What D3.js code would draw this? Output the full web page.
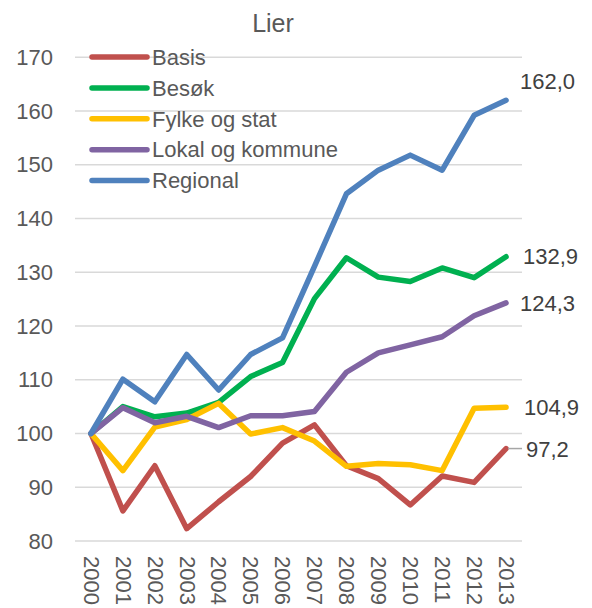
<!DOCTYPE html>
<head>
  <meta charset="utf-8">
  <script src="https://d3js.org/d3.v7.min.js"></script>
  <style>
    body { margin:0; background:#fff; }
    text { font-family: "Liberation Sans", Arial, sans-serif; }
  </style>
</head>
<body>
  <script>
    // data
    var years = ["2000","2001","2002","2003","2004","2005","2006","2007","2008","2009","2010","2011","2012","2013"];
    var seriesNames = ["Basis", "Besøk", "Fylke og stat", "Lokal og kommune", "Regional"];
    var basis    = [100, 85.6, 94.0, 82.3, 87.3, 92.0, 98.2, 101.6, 94.0, 91.6, 86.7, 92.1, 90.9, 97.2];
    var besok    = [100, 105.0, 103.1, 103.8, 105.8, 110.6, 113.2, 125.1, 132.7, 129.1, 128.3, 130.8, 129.0, 132.9];
    var fylke    = [100, 93.1, 101.2, 102.6, 105.6, 99.9, 101.1, 98.6, 93.9, 94.4, 94.2, 93.1, 104.7, 104.9];
    var lokal    = [100, 104.8, 102.0, 103.2, 101.1, 103.3, 103.3, 104.1, 111.4, 115.0, 116.5, 118.0, 121.9, 124.3];
    var regional = [100, 110.1, 105.9, 114.7, 108.1, 114.7, 117.8, 131.1, 144.6, 149.0, 151.8, 149.0, 159.2, 162.0];
    var yTicks = [80, 90, 100, 110, 120, 130, 140, 150, 160, 170];
    var endLabels = ["97,2", "132,9", "104,9", "124,3", "162,0"];
    var colors = ["#C0504D", "#00B050", "#FFC000", "#8064A2", "#4F81BD"];

    var width = 592, height = 608;
    var plot = {left: 75, right: 522, top: 57.3, bottom: 541};

    var svg = d3.select("body").append("svg")
      .attr("width", width)
      .attr("height", height);

    var x = d3.scalePoint().domain(years).range([plot.left, plot.right]).padding(0.5);
    var y = d3.scaleLinear().domain([80, 170]).range([plot.bottom, plot.top]);

    // gridlines
    svg.append("g").selectAll("line").data(yTicks).enter().append("line")
      .attr("x1", plot.left).attr("x2", plot.right)
      .attr("y1", function(d){ return y(d); })
      .attr("y2", function(d){ return y(d); })
      .attr("stroke", "#D9D9D9").attr("stroke-width", 1.5);

    // y axis labels
    var yAxis = d3.axisLeft(y).tickValues(yTicks).tickSize(0).tickPadding(0);
    var gy = svg.append("g").attr("transform", "translate(53,0)").call(yAxis);
    gy.select(".domain").remove();
    gy.selectAll("text")
      .attr("font-size", 22).attr("fill", "#595959")
      .attr("font-family", "Liberation Sans, Arial, sans-serif");

    // x axis labels, rotated
    var xAxis = d3.axisBottom(x).tickSize(0).tickPadding(0);
    var gx = svg.append("g").attr("transform", "translate(0,556)").call(xAxis);
    gx.select(".domain").remove();
    gx.selectAll("text")
      .attr("font-size", 22).attr("fill", "#595959")
      .attr("font-family", "Liberation Sans, Arial, sans-serif")
      .attr("transform", "rotate(90)")
      .attr("text-anchor", "start")
      .attr("x", 0).attr("y", 0).attr("dy", "0.35em");

    // lines
    var allSeries = [basis, besok, fylke, lokal, regional];
    var line = d3.line()
      .x(function(d, i){ return x(years[i]); })
      .y(function(d){ return y(d); });

    svg.append("g").selectAll("path").data(allSeries).enter().append("path")
      .attr("d", function(d){ return line(d); })
      .attr("fill", "none")
      .attr("stroke", function(d, i){ return colors[i]; })
      .attr("stroke-width", 5.5)
      .attr("stroke-linejoin", "round")
      .attr("stroke-linecap", "round");

    // end value labels
    var lastX = x(years[years.length - 1]);
    var labelOffsets = [ {dx: 20, dy: 1}, {dx: 17, dy: 0}, {dx: 18, dy: 0}, {dx: 14, dy: 0}, {dx: 14, dy: -19} ];
    svg.append("g").selectAll("text").data(allSeries).enter().append("text")
      .attr("x", function(d, i){ return lastX + labelOffsets[i].dx; })
      .attr("y", function(d, i){ return y(d[d.length - 1]) + labelOffsets[i].dy; })
      .attr("dy", "0.35em")
      .attr("font-size", 22)
      .attr("fill", "#404040")
      .text(function(d, i){ return endLabels[i]; });

    // leader line for Basis label
    svg.append("line")
      .attr("x1", lastX + 2).attr("x2", lastX + 16)
      .attr("y1", y(basis[basis.length - 1])).attr("y2", y(basis[basis.length - 1]))
      .attr("stroke", "#A6A6A6").attr("stroke-width", 1.5);

    // title
    svg.append("text")
      .attr("x", 273).attr("y", 32)
      .attr("text-anchor", "middle")
      .attr("font-size", 25).attr("fill", "#595959")
      .text("Lier");

    // legend
    var legend = svg.append("g").selectAll("g").data(seriesNames).enter().append("g")
      .attr("transform", function(d, i){ return "translate(92," + (57 + i * 30.9) + ")"; });
    legend.append("line")
      .attr("x1", 0).attr("x2", 55).attr("y1", 0).attr("y2", 0)
      .attr("stroke", function(d, i){ return colors[i]; })
      .attr("stroke-width", 5.5).attr("stroke-linecap", "round");
    legend.append("text")
      .attr("x", 60).attr("y", 0).attr("dy", "0.35em")
      .attr("font-size", 22).attr("fill", "#595959")
      .text(function(d){ return d; });
  </script>
</body>
